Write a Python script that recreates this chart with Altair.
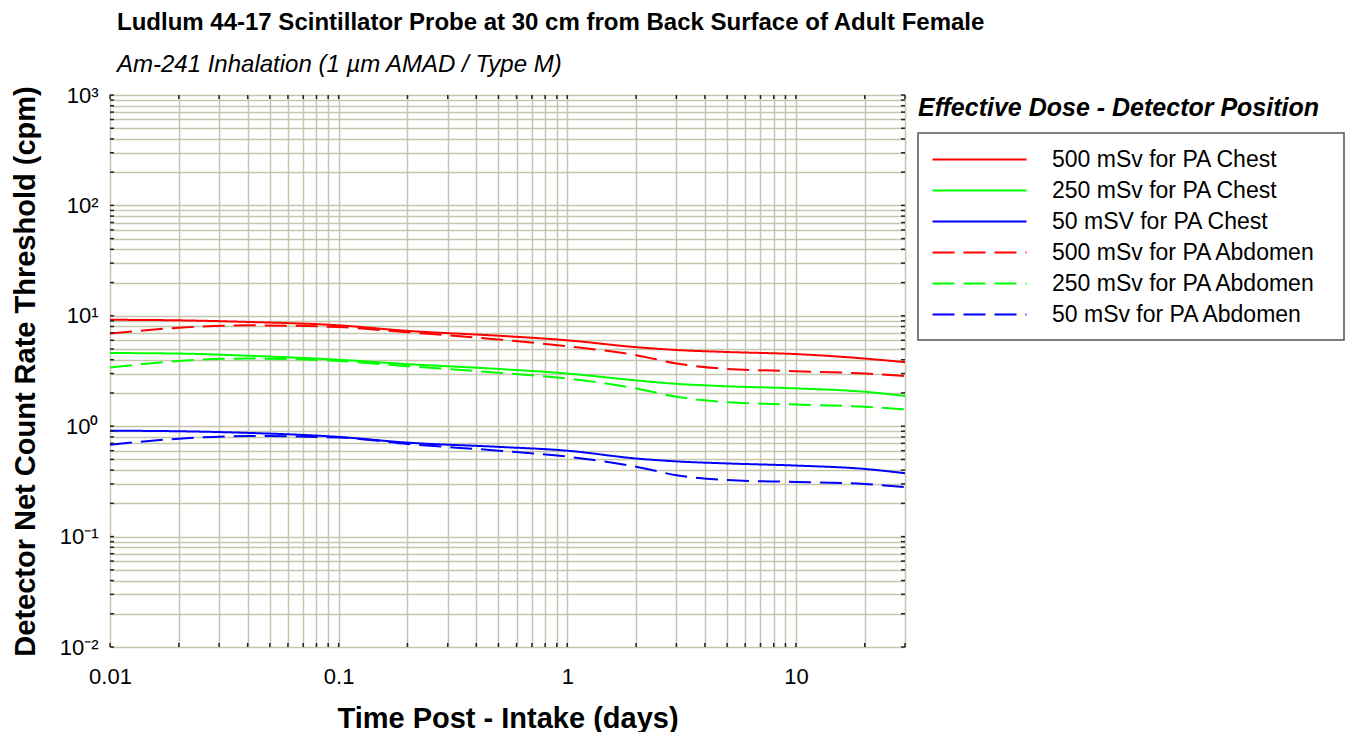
import altair as alt
import pandas as pd

# ---- data ----
t_days = [0.01, 0.02, 0.04, 0.1, 0.2, 0.5, 1, 2, 3, 5, 10, 20, 30]

chest_500 = [9.2, 9.1, 8.8, 8.2, 7.3, 6.6, 6.0, 5.2, 4.9, 4.7, 4.5, 4.1, 3.8]
chest_250 = [4.6, 4.55, 4.35, 4.0, 3.65, 3.3, 3.0, 2.6, 2.42, 2.3, 2.2, 2.05, 1.88]
chest_50 = [0.91, 0.9, 0.87, 0.8, 0.71, 0.65, 0.6, 0.51, 0.48, 0.46, 0.44, 0.41, 0.375]
abd_500 = [6.9, 7.8, 8.2, 7.9, 7.1, 6.1, 5.3, 4.4, 3.7, 3.3, 3.15, 3.0, 2.85]
abd_250 = [3.4, 3.9, 4.1, 3.9, 3.5, 3.05, 2.7, 2.2, 1.85, 1.65, 1.57, 1.5, 1.42]
abd_50 = [0.68, 0.77, 0.815, 0.79, 0.69, 0.6, 0.53, 0.43, 0.36, 0.325, 0.313, 0.3, 0.28]

series_names = [
    "500 mSv for PA Chest",
    "250 mSv for PA Chest",
    "50 mSV for PA Chest",
    "500 mSv for PA Abdomen",
    "250 mSv for PA Abdomen",
    "50 mSv for PA Abdomen",
]
series_values = [chest_500, chest_250, chest_50, abd_500, abd_250, abd_50]
series_colors = ["#ff0000", "#00ff00", "#0000ff", "#ff0000", "#00ff00", "#0000ff"]
series_dash = [[1, 0], [1, 0], [1, 0], [22, 9], [22, 9], [22, 9]]

x_decade_labels = {0.01: "0.01", 0.1: "0.1", 1: "1", 10: "10"}
y_decade_labels = {0.01: "10⁻²", 0.1: "10⁻¹", 1: "10⁰", 10: "10¹", 100: "10²", 1000: "10³"}

title_text = "Ludlum 44-17 Scintillator Probe at 30 cm from Back Surface of Adult Female"
subtitle_text = "Am-241 Inhalation (1 \u00b5m AMAD / Type M)"
legend_title = "Effective Dose - Detector Position"
x_title = "Time Post - Intake (days)"
y_title = "Detector Net Count Rate Threshold (cpm)"

# ---- build tables ----
rows = []
for name, vals in zip(series_names, series_values):
    for t, v in zip(t_days, vals):
        rows.append({"t": t, "v": v, "series": name})
df = pd.DataFrame(rows)

x_ticks = [round(m * 10.0 ** k, 10) for k in range(-2, 1) for m in range(1, 10)] + [10, 20, 30]
y_ticks = [round(m * 10.0 ** k, 10) for k in range(-2, 3) for m in range(1, 10)] + [1000]
xt_df = pd.DataFrame({"t": x_ticks})
yt_df = pd.DataFrame({"v": y_ticks})

def label_expr(mapping):
    parts = []
    for val, lab in mapping.items():
        parts.append(f"abs(datum.value - {val}) < {val}*1e-6 ? '{lab}' : ")
    return "".join(parts) + "''"

FONT = "Liberation Sans"
GRID = "#c6c6b0"
W, H = 795, 552
TICK = 4

x_scale = alt.Scale(type="log", domain=[0.01, 30], nice=False)
y_scale = alt.Scale(type="log", domain=[0.01, 1000], nice=False)

legend_common = dict(
    title=None,
    orient="none",
    legendX=808,
    legendY=38,
    padding=15,
    labelFont=FONT,
    labelFontSize=23,
    labelColor="black",
    labelOffset=96,
    labelLimit=0,
    symbolType="M-1.2,0H8.2",
    symbolSize=400,
    symbolStrokeWidth=2,
    rowPadding=7,
)

lines = alt.Chart(df).mark_line(strokeWidth=2, interpolate="monotone", clip=True).encode(
    x=alt.X(
        "t:Q",
        scale=x_scale,
        axis=alt.Axis(
            values=x_ticks,
            labelExpr=label_expr(x_decade_labels),
            title=x_title,
            titleFont=FONT,
            titleFontSize=29,
            titleFontWeight="bold",
            titleColor="black",
            titlePadding=17,
            labelFont=FONT,
            labelFontSize=22,
            labelColor="black",
            labelPadding=19,
            tickSize=0,
            domain=False,
            grid=True,
            gridColor=GRID,
            gridWidth=1.5,
            gridOpacity=1,
            labelOverlap=False,
            labelFlush=False,
        ),
    ),
    y=alt.Y(
        "v:Q",
        scale=y_scale,
        axis=alt.Axis(
            values=y_ticks,
            labelExpr=label_expr(y_decade_labels),
            title=y_title,
            titleFont=FONT,
            titleFontSize=29,
            titleFontWeight="bold",
            titleColor="black",
            titlePadding=19,
            labelFont=FONT,
            labelFontSize=22,
            labelColor="black",
            labelPadding=12,
            tickSize=0,
            domain=False,
            grid=True,
            gridColor=GRID,
            gridWidth=1.5,
            gridOpacity=1,
            labelOverlap=False,
            labelFlush=False,
        ),
    ),
    color=alt.Color(
        "series:N",
        scale=alt.Scale(domain=series_names, range=series_colors),
        sort=series_names,
        legend=alt.Legend(**legend_common),
    ),
    strokeDash=alt.StrokeDash(
        "series:N",
        scale=alt.Scale(domain=series_names, range=series_dash),
        sort=series_names,
        legend=alt.Legend(**legend_common),
    ),
)

# inward tick marks on all four sides
tick_style = dict(color="#222222", strokeWidth=1.5)
x_ticks_bottom = alt.Chart(xt_df).mark_rule(**tick_style).encode(
    x=alt.X("t:Q", scale=x_scale), y=alt.value(H), y2=alt.value(H - TICK)
)
x_ticks_top = alt.Chart(xt_df).mark_rule(**tick_style).encode(
    x=alt.X("t:Q", scale=x_scale), y=alt.value(0), y2=alt.value(TICK)
)
y_ticks_left = alt.Chart(yt_df).mark_rule(**tick_style).encode(
    y=alt.Y("v:Q", scale=y_scale), x=alt.value(0), x2=alt.value(TICK)
)
y_ticks_right = alt.Chart(yt_df).mark_rule(**tick_style).encode(
    y=alt.Y("v:Q", scale=y_scale), x=alt.value(W), x2=alt.value(W - TICK)
)

# legend frame and heading (legend itself is the native one)
legend_frame = alt.Chart(pd.DataFrame({"k": [0]})).mark_rect(
    fill="white", stroke="#555555", strokeWidth=1.5
).encode(x=alt.value(808), x2=alt.value(1234), y=alt.value(38), y2=alt.value(245))

legend_title_layer = alt.Chart(pd.DataFrame({"txt": [legend_title]})).mark_text(
    font=FONT,
    fontSize=25,
    fontWeight="bold",
    fontStyle="italic",
    align="left",
    baseline="middle",
    color="black",
).encode(text="txt:N", x=alt.value(808), y=alt.value(13))

chart = (
    alt.layer(
        lines, x_ticks_bottom, x_ticks_top, y_ticks_left, y_ticks_right,
        legend_frame, legend_title_layer,
    )
    .properties(
        width=W,
        height=H,
        padding={"left": 102, "top": 87, "right": 440, "bottom": 85},
        autosize=alt.AutoSizeParams(type="none"),
        title=alt.TitleParams(
            text=title_text,
            subtitle=subtitle_text,
            anchor="start",
            frame="group",
            dx=7,
            dy=-1,
            font=FONT,
            fontSize=24,
            fontWeight="bold",
            color="black",
            subtitleFont=FONT,
            subtitleFontSize=24,
            subtitleFontStyle="italic",
            subtitleColor="black",
            subtitlePadding=18,
            offset=6,
        ),
    )
    .configure_view(stroke="#404040", strokeWidth=2)
    .configure(background="white")
)

chart.save("out.html", embed_options={"renderer": "svg", "actions": False})
